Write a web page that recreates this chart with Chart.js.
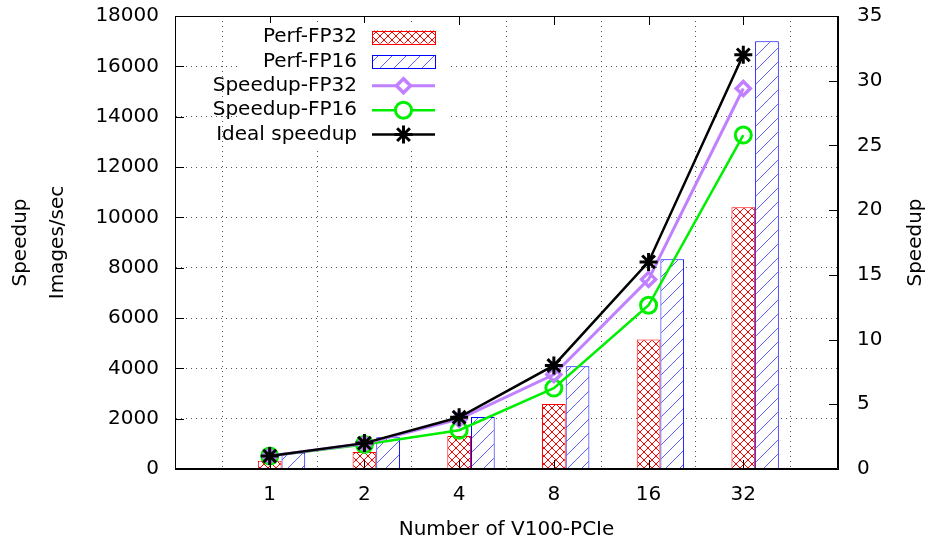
<!DOCTYPE html>
<html>
<head>
<meta charset="utf-8">
<script src="https://cdn.jsdelivr.net/npm/chart.js@4.4.1/dist/chart.umd.min.js"></script>
<style>
  html, body { margin: 0; padding: 0; background: #fff; }
</style>
</head>
<body>
<canvas id="chart" width="928" height="540"></canvas>
<script>
// values
const gpuCounts = ['1', '2', '4', '8', '16', '32'];
const perfFP32 = [330, 680, 1310, 2580, 5150, 10400];      // images/sec
const perfFP16 = [650, 1260, 2070, 4080, 8330, 17000];     // images/sec
const speedupFP32 = [1, 1.97, 3.85, 7.3, 14.65, 29.4];
const speedupFP16 = [1, 1.9, 3.0, 6.25, 12.65, 25.8];
const idealSpeedup = [1, 2, 4, 8, 16, 32];
const imagesAxis = [0, 18000, 2000];   // min, max, step
const speedupAxis = [0, 35, 5];

const FONT = 'DejaVu Sans';
Chart.defaults.font.family = FONT;
Chart.defaults.font.size = 20;
Chart.defaults.color = '#000';

const canvas = document.getElementById('chart');
const ctx2d = canvas.getContext('2d');

// gnuplot-like fill patterns on a white background
function hatch(color, size, cross) {
    const c = document.createElement('canvas');
    c.width = c.height = size;
    const g = c.getContext('2d');
    g.fillStyle = '#fff';
    g.fillRect(0, 0, size, size);
    g.strokeStyle = color;
    g.lineWidth = 1;
    g.beginPath();
    for (const o of [-size, 0, size]) {
        g.moveTo(o, size); g.lineTo(o + size, 0);
        if (cross) { g.moveTo(o, 0); g.lineTo(o + size, size); }
    }
    g.stroke();
    return ctx2d.createPattern(c, 'repeat');
}

// category slots at both ends stay empty, like the gnuplot x range
const pad = arr => [null, ...arr, null];
const labels = ['', ...gpuCounts, ''];

const frame = {
    id: 'frame',
    afterDatasetsDraw(chart) {
        const {ctx, chartArea: a, scales} = chart;
        ctx.save();
        ctx.strokeStyle = '#000';
        ctx.lineWidth = 1;
        ctx.beginPath();
        scales.y.ticks.forEach(t => {
            const y = Math.round(scales.y.getPixelForValue(t.value)) + 0.5;
            ctx.moveTo(a.left, y); ctx.lineTo(a.left + 9, y);
        });
        scales.y1.ticks.forEach(t => {
            const y = Math.round(scales.y1.getPixelForValue(t.value)) + 0.5;
            ctx.moveTo(a.right, y); ctx.lineTo(a.right - 9, y);
        });
        labels.forEach((l, i) => {
            if (!l) return;
            const x = Math.round(scales.x.getPixelForValue(i)) + 0.5;
            ctx.moveTo(x, a.bottom); ctx.lineTo(x, a.bottom - 9);
            ctx.moveTo(x, a.top); ctx.lineTo(x, a.top + 9);
        });
        ctx.rect(Math.round(a.left) + 0.5, Math.round(a.top) + 0.5,
                 Math.round(a.width) - 1, Math.round(a.height) - 1);
        ctx.stroke();
        ctx.restore();
    },
    afterDraw(chart) {
        const {ctx} = chart;
        // key, text right-aligned with the sample to its right
        const items = chart.data.datasets.filter(d => d.keyRow !== undefined)
            .sort((p, q) => p.keyRow - q.keyRow);
        const textRight = 357, s0 = 372, s1 = 435, y0 = 37, dy = 24.4;
        ctx.save();
        ctx.fillStyle = '#fff';
        ctx.fillRect(240, 23, 208, 125);
        ctx.font = '20px ' + FONT;
        ctx.textAlign = 'right';
        ctx.textBaseline = 'middle';
        items.forEach((d, i) => {
            const y = y0 + i * dy;
            ctx.fillStyle = '#000';
            ctx.fillText(d.label, textRight, y);
            if (d.type === 'line') {
                ctx.strokeStyle = d.borderColor;
                ctx.lineWidth = d.borderWidth;
                ctx.beginPath();
                ctx.moveTo(s0, y); ctx.lineTo(s1, y);
                ctx.stroke();
                ctx.fillStyle = '#fff';
                ctx.lineWidth = d.pointBorderWidth;
                Chart.helpers.drawPoint(ctx, {pointStyle: d.pointStyle, radius: d.pointRadius,
                    borderWidth: d.pointBorderWidth, rotation: 0}, (s0 + s1) / 2, y);
            } else {
                ctx.fillStyle = d.backgroundColor;
                ctx.fillRect(s0, y - 6.5, s1 - s0, 13);
                ctx.strokeStyle = d.borderColor;
                ctx.lineWidth = 1;
                ctx.strokeRect(s0 + 0.5, Math.round(y - 6.5) + 0.5, s1 - s0, 13);
            }
        });
        // right axis title reads bottom-to-top like the left one
        ctx.translate(916, (chart.chartArea.top + chart.chartArea.bottom) / 2);
        ctx.rotate(-Math.PI / 2);
        ctx.textAlign = 'center';
        ctx.fillStyle = '#000';
        ctx.fillText('Speedup', 0, 0);
        ctx.restore();
    }
};

const lineSet = (label, data, color, style, radius, width, row) => ({
    type: 'line', label, keyRow: row, yAxisID: 'y1', data: pad(data),
    borderColor: color, borderWidth: width, tension: 0, fill: false,
    pointStyle: style, pointRadius: radius, pointBorderWidth: width + 0.5,
    pointBorderColor: color, pointBackgroundColor: 'rgba(0,0,0,0)'
});

const plain = v => String(v);
// keep the plot box where gnuplot put it
const pinY = w => s => { s.width = w; s.paddingTop = 0; s.paddingBottom = 0; };

new Chart(canvas, {
    type: 'bar',
    data: {
        labels: labels,
        datasets: [
            lineSet('Ideal speedup', idealSpeedup, '#000000', 'star', 9, 2.5, 4),
            lineSet('Speedup-FP32', speedupFP32, '#c080ff', 'rectRot', 7, 3, 2),
            lineSet('Speedup-FP16', speedupFP16, '#00ee00', 'circle', 8, 2.5, 3),
            // empty slot so the FP32 bar sits on the tick and FP16 to its right
            {type: 'bar', label: '', yAxisID: 'y', data: pad(gpuCounts.map(() => null))},
            {type: 'bar', label: 'Perf-FP32', keyRow: 0, yAxisID: 'y', data: pad(perfFP32),
             backgroundColor: hatch('#ff0000', 8, true), borderColor: '#ff0000', borderWidth: 1},
            {type: 'bar', label: 'Perf-FP16', keyRow: 1, yAxisID: 'y', data: pad(perfFP16),
             backgroundColor: hatch('#6060ff', 14, false), borderColor: '#0000ff', borderWidth: 1}
        ]
    },
    options: {
        responsive: false,
        devicePixelRatio: 1,
        animation: false,
        categoryPercentage: 0.75,
        barPercentage: 1,
        layout: {padding: {top: 16, left: 0, right: 0, bottom: 0}},
        plugins: {legend: {display: false}, tooltip: {enabled: false}},
        scales: {
            x: {
                type: 'category',
                offset: false,
                grid: {color: '#555', drawTicks: false},
                border: {dash: [1, 4], color: '#000'},
                ticks: {padding: 14, autoSkip: false, maxRotation: 0},
                title: {display: true, text: 'Number of V100-PCIe',
                        font: {size: 20, lineHeight: 1}, padding: {top: 0, bottom: 0}},
                afterFit: s => { s.height = 71; s.paddingLeft = 0; s.paddingRight = 0; }
            },
            y: {
                position: 'left',
                min: imagesAxis[0], max: imagesAxis[1],
                grid: {color: '#555', drawTicks: false},
                border: {dash: [1, 4], color: '#000'},
                ticks: {stepSize: imagesAxis[2], padding: 16, callback: plain},
                title: {display: true, text: ['Speedup', 'Images/sec'],
                        font: {size: 20, lineHeight: 1.85}, padding: {top: 2, bottom: 0}},
                afterFit: pinY(175)
            },
            y1: {
                position: 'right',
                min: speedupAxis[0], max: speedupAxis[1],
                grid: {drawOnChartArea: false, drawTicks: false},
                border: {color: '#000'},
                ticks: {stepSize: speedupAxis[2], padding: 19, callback: plain},
                afterFit: pinY(90)
            }
        }
    },
    plugins: [frame]
});
</script>
</body>
</html>
